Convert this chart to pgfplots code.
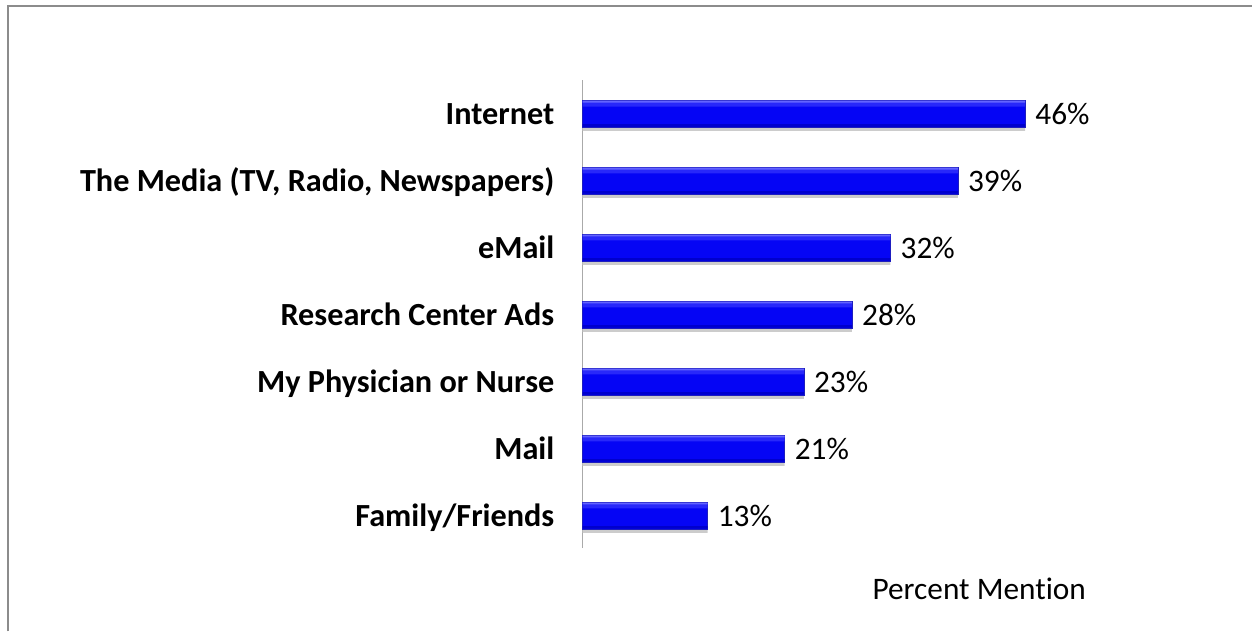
\documentclass[border=0pt]{standalone}
\usepackage{pgfplots}
\pgfplotsset{compat=1.18}
\usepackage{fontspec}
\setmainfont{Carlito}[Ligatures=NoCommon]

\definecolor{framegray}{RGB}{140,140,140}
\definecolor{axisgray}{RGB}{170,170,170}
\definecolor{barblue}{RGB}{5,5,245}
\definecolor{bartop}{RGB}{100,100,255}
\definecolor{barmid}{RGB}{40,40,250}
\definecolor{barbot}{RGB}{0,0,205}
\definecolor{baredge}{RGB}{30,30,190}

\pgfplotstableread{
val pos
13 0
21 1
23 2
28 3
32 4
39 5
46 6
}\bardata

\begin{document}
\begin{tikzpicture}
\path (0,0) rectangle (939.75pt,474pt);
\draw[framegray, line width=1.5pt] (6pt,0) -- (6pt,469.5pt) -- (939.75pt,469.5pt);
\begin{axis}[
  at={(437.25pt,62.6pt)}, anchor=south west,
  scale only axis, width=361.1pt, height=351pt,
  xmin=0, xmax=50, ymin=-0.48, ymax=6.5,
  xbar, bar width=20.25pt,
  axis x line=none, axis y line*=left,
  y axis line style={draw=axisgray, line width=0.75pt},
  xtick=\empty,
  ytick={0,1,2,3,4,5,6},
  yticklabels={Family/Friends, Mail, My Physician or Nurse, Research Center Ads, eMail, {The Media (TV, Radio, Newspapers)}, Internet},
  major tick length=0pt,
  yticklabel style={font=\fontsize{24.2}{29}\selectfont\bfseries, inner sep=0pt, anchor=base east, xshift=-21pt, yshift=-7.8pt},
  clip=false,
]
% soft shadow
\addplot[fill=black!20, draw=none, bar shift=-2.5pt, forget plot] table[x=val, y=pos] {\bardata};
% main bar
\addplot[fill=barblue, draw=baredge, line width=0.4pt, bar shift=0pt, forget plot] table[x=val, y=pos] {\bardata};
% top highlight bands
\addplot[fill=barmid, draw=none, bar width=4pt, bar shift=7.6pt, forget plot] table[x=val, y=pos] {\bardata};
\addplot[fill=bartop, draw=none, bar width=1.4pt, bar shift=9.3pt, forget plot] table[x=val, y=pos] {\bardata};
% bottom darker band
\addplot[fill=barbot, draw=none, bar width=2pt, bar shift=-8.6pt, forget plot] table[x=val, y=pos] {\bardata};
% labels
\addplot[draw=none, fill=none, bar shift=0pt,
  point meta=x,
  nodes near coords={\pgfmathprintnumber[assume math mode=true]{\pgfplotspointmeta}\%},
  every node near coord/.append style={font=\fontsize{23.5}{28}\selectfont, anchor=base west, inner sep=0pt, xshift=7.5pt, yshift=-7.6pt, black}]
  table[x=val, y=pos] {\bardata};
\end{axis}
\node[font=\fontsize{23.5}{28}\selectfont, inner sep=0pt] at (735pt,31.9pt) {Percent Mention};
\end{tikzpicture}
\end{document}
